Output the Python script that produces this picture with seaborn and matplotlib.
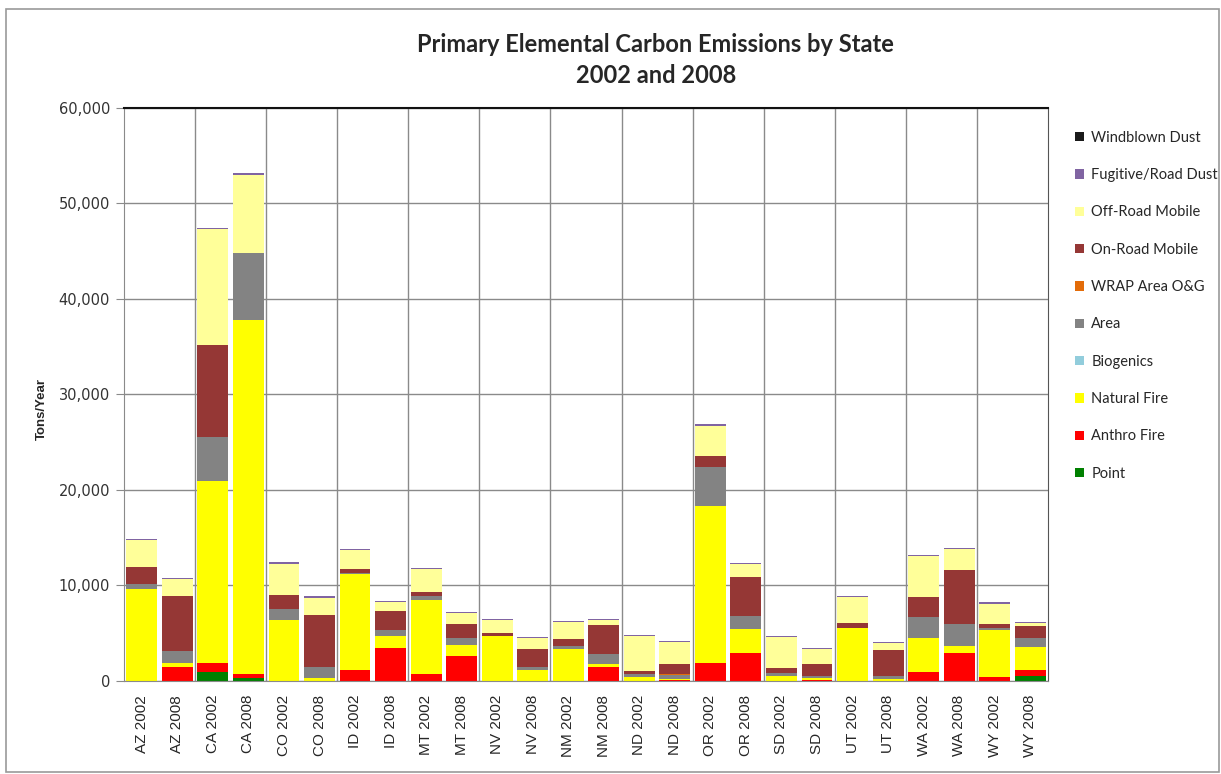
import matplotlib
matplotlib.use('Agg')
import matplotlib.pyplot as plt
import seaborn as sns
import pandas as pd
import numpy as np
from matplotlib.patches import Rectangle

labels = ['AZ 2002', 'AZ 2008', 'CA 2002', 'CA 2008', 'CO 2002', 'CO 2008',
          'ID 2002', 'ID 2008', 'MT 2002', 'MT 2008', 'NV 2002', 'NV 2008',
          'NM 2002', 'NM 2008', 'ND 2002', 'ND 2008', 'OR 2002', 'OR 2008',
          'SD 2002', 'SD 2008', 'UT 2002', 'UT 2008', 'WA 2002', 'WA 2008',
          'WY 2002', 'WY 2008']

# tons/year by source
point =      [0, 0, 940, 350, 0, 0, 0, 0, 0, 0, 0, 0, 0, 0,
              0, 0, 0, 0, 0, 0, 0, 0, 0, 0, 0, 490]
anthro =     [0, 1470, 940, 420, 0, 0, 1190, 3400, 770, 2650, 0, 0, 0, 1500,
              0, 100, 1920, 2940, 0, 140, 0, 0, 940, 2970, 400, 700]
natural =    [9640, 420, 19100, 37000, 6400, 350, 10000, 1300, 7700, 1150, 4680, 1100, 3390, 300,
              450, 80, 16430, 2450, 560, 170, 5560, 200, 3600, 730, 4900, 2380]
biogenics =  [0] * 26
area =       [480, 1300, 4600, 7000, 1150, 1130, 150, 650, 420, 700, 0, 350, 250, 980,
              280, 450, 4020, 1430, 280, 240, 0, 350, 2170, 2310, 200, 980]
wrap_og =    [0, 0, 0, 0, 0, 0, 0, 0, 0, 0, 0, 0, 0, 0,
              0, 80, 0, 0, 0, 0, 0, 0, 0, 0, 0, 0]
onroad =     [1800, 5700, 9600, 0, 1450, 5400, 400, 1950, 450, 1500, 300, 1900, 750, 3040,
              280, 1050, 1190, 4090, 490, 1220, 560, 2700, 2030, 5660, 500, 1190]
offroad =    [2800, 1800, 12100, 8200, 3300, 1850, 2000, 1000, 2400, 1100, 1400, 1100, 1750, 520,
              3660, 2340, 3180, 1290, 3250, 1600, 2690, 730, 4370, 2100, 2100, 350]
fugitive =   [120, 120, 200, 200, 130, 120, 120, 120, 120, 120, 120, 120, 120, 120,
              120, 120, 150, 120, 120, 120, 120, 120, 130, 120, 120, 120]
windblown =  [0] * 26

sources = ['Point', 'Anthro Fire', 'Natural Fire', 'Biogenics', 'Area', 'WRAP Area O&G',
           'On-Road Mobile', 'Off-Road Mobile', 'Fugitive/Road Dust', 'Windblown Dust']
colors = ['#008000', '#ff0000', '#ffff00', '#92cddc', '#838383', '#e36c09',
          '#953735', '#ffff99', '#8064a2', '#1a1a1a']

df = pd.DataFrame({'label': labels, 'Point': point, 'Anthro Fire': anthro,
                   'Natural Fire': natural, 'Biogenics': biogenics, 'Area': area,
                   'WRAP Area O&G': wrap_og, 'On-Road Mobile': onroad,
                   'Off-Road Mobile': offroad, 'Fugitive/Road Dust': fugitive,
                   'Windblown Dust': windblown})
cum = df[sources].cumsum(axis=1)
cum['label'] = df['label']

sns.set_style('white')
plt.rcParams['font.family'] = ['Liberation Sans', 'DejaVu Sans']

fig = plt.figure(figsize=(12.21, 7.74), dpi=100)
ax = fig.add_axes([0.1016, 0.1202, 0.7567, 0.7403])

# draw cumulative totals from the top layer down so lower layers cover upper ones
for src, c in zip(sources[::-1], colors[::-1]):
    sns.barplot(data=cum, x='label', y=src, color=c, saturation=1, width=0.87,
                linewidth=0, label=src, ax=ax)

ax.set_ylim(0, 60000)
ax.set_xlim(-0.5, 25.5)
ax.set_yticks(np.arange(0, 60001, 10000))
ax.yaxis.set_major_formatter(matplotlib.ticker.StrMethodFormatter('{x:,.0f}'))
ax.yaxis.grid(True, color='#8a8a8a', lw=1)
ax.set_axisbelow(True)
for b in np.arange(1.5, 25, 2):
    ax.axvline(b, color='#8a8a8a', lw=1, zorder=0)

bounds = np.arange(-0.5, 26, 2)
ax.set_xticks(bounds, minor=True)
ax.tick_params(axis='x', which='major', length=0, labelsize=11, labelrotation=90, pad=10)
ax.tick_params(axis='x', which='minor', length=9, color='#8a8a8a', width=1)
ax.tick_params(axis='y', length=6, color='#8a8a8a', labelsize=10.5, labelcolor='#333333', pad=4, left=True)
for lab in ax.get_yticklabels():
    lab.set_family(['DejaVu Sans'])
ax.set_xlabel('')
ax.set_ylabel('Tons/Year', fontsize=9.5, fontweight='bold')
ax.yaxis.set_label_coords(-0.082, 0.475)

for s in ['left', 'bottom']:
    ax.spines[s].set_color('#8a8a8a')
ax.spines['top'].set_color('#111111')
ax.spines['top'].set_linewidth(1.5)
ax.spines['right'].set_color('#555555')

handles, labs = ax.get_legend_handles_labels()
ax.legend_.remove()

fig.suptitle('Primary Elemental Carbon Emissions by State\n2002 and 2008', x=0.537, y=0.957,
             fontsize=17, fontweight='bold', linespacing=1.42,
             family=['Lato', 'DejaVu Sans'])

fig.legend(handles, labs, loc='upper left', bbox_to_anchor=(0.870, 0.848),
           frameon=False, prop={'family': ['Lato', 'DejaVu Sans'], 'size': 10.5},
           handlelength=0.6, handleheight=0.6, handletextpad=0.5, labelspacing=1.6)

fig.patches.append(Rectangle((0.005, 0.003), 0.993, 0.985, transform=fig.transFigure,
                             fill=False, edgecolor='#9a9a9a', lw=1.2))

plt.savefig('out.png', dpi=100)
